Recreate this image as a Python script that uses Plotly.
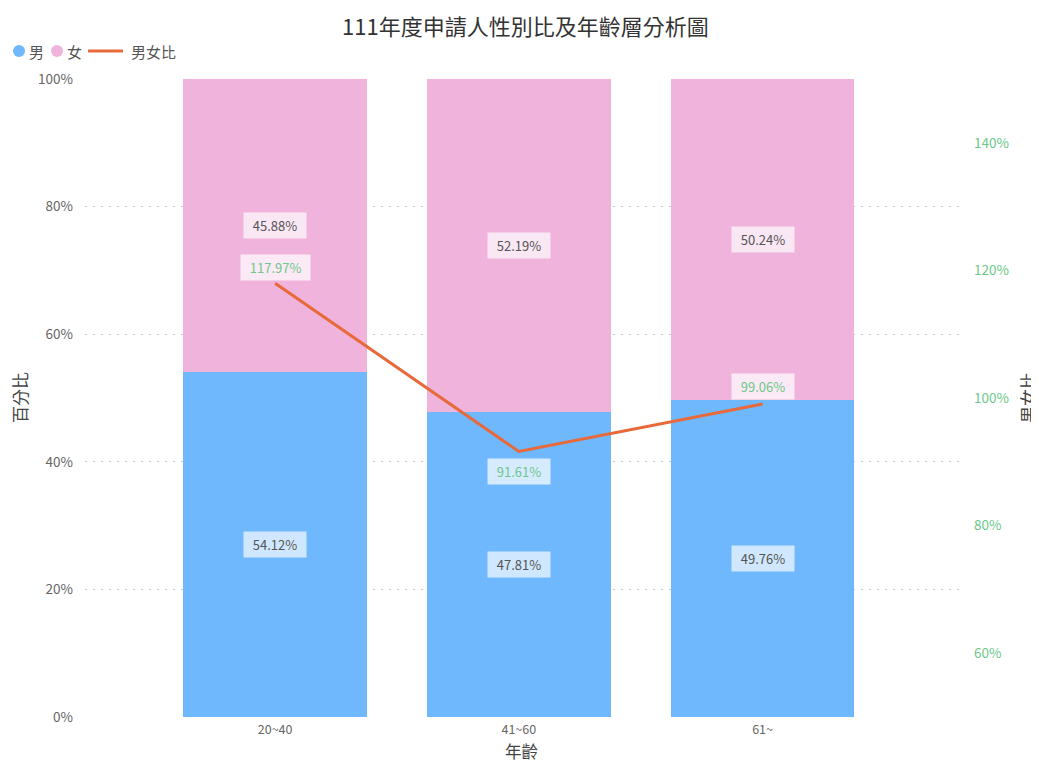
import plotly.graph_objects as go

categories = ["20~40", "41~60", "61~"]
male = [54.12, 47.81, 49.76]
female = [45.88, 52.19, 50.24]
ratio = [117.97, 91.61, 99.06]
ratio_label_shift = [16, -20, 18]

left_ticks = [0, 20, 40, 60, 80, 100]
right_ticks = [60, 80, 100, 120, 140]

C_MALE = "#6FB8FD"
C_FEMALE = "#F0B3DC"
C_LINE = "#E8693A"
C_GREEN = "#6CC88A"
FONT = "Noto Sans CJK TC"
TICK_SIZE = 13.5

# figure layout geometry (pixels in the figure)
W, H = 1039, 763
L, R, T, B = 77, 87, 71, 54
PW, PH = W - L - R, H - T - B


def px(x):
    return (x - L) / PW


def py(y):
    return (H - B - y) / PH


fig = go.Figure()
fig.add_trace(go.Bar(x=categories, y=male, name="男", marker=dict(color=C_MALE, line=dict(width=0)),
                     width=0.754, showlegend=False, hoverinfo="skip"))
fig.add_trace(go.Bar(x=categories, y=female, name="女", marker=dict(color=C_FEMALE, line=dict(width=0)),
                     width=0.754, showlegend=False, hoverinfo="skip"))
fig.add_trace(go.Scatter(x=categories, y=ratio, yaxis="y2", mode="lines", name="男女比",
                         line=dict(color=C_LINE, width=3), showlegend=False))

annotations = []
for i, c in enumerate(categories):
    annotations.append(dict(x=c, y=male[i] / 2, xref="x", yref="y", text=f"&nbsp;&nbsp;{male[i]:.2f}%&nbsp;&nbsp;",
                            showarrow=False, font=dict(size=13, color="#555", family=FONT),
                            bgcolor="rgba(255,255,255,0.68)", borderpad=3))
    annotations.append(dict(x=c, y=male[i] + female[i] / 2, xref="x", yref="y",
                            text=f"&nbsp;&nbsp;{female[i]:.2f}%&nbsp;&nbsp;",
                            showarrow=False, font=dict(size=13, color="#555", family=FONT),
                            bgcolor="rgba(255,255,255,0.68)", borderpad=3))
    annotations.append(dict(x=c, y=ratio[i], xref="x", yref="y2", text=f"&nbsp;&nbsp;{ratio[i]:.2f}%&nbsp;&nbsp;",
                            yshift=ratio_label_shift[i],
                            showarrow=False, font=dict(size=13, color=C_GREEN, family=FONT),
                            bgcolor="rgba(255,255,255,0.72)", borderpad=3))

# chart title
annotations.append(dict(x=px(517), y=py(17), xref="paper", yref="paper",
                        text="111年度申請人性別比及年齡層分析圖", xanchor="center", yanchor="middle",
                        showarrow=False, font=dict(size=22, color="#333", family=FONT)))

# axis titles
title_font = dict(size=17, color="#444", family=FONT)
annotations.append(dict(x=px(11), y=0.5, xref="paper", yref="paper", text="百分比", textangle=-90,
                        xanchor="center", yanchor="middle", showarrow=False, font=title_font))
annotations.append(dict(x=px(1019), y=0.5, xref="paper", yref="paper", text="男女比", textangle=-90,
                        xanchor="center", yanchor="middle", showarrow=False, font=title_font))
annotations.append(dict(x=px(513), y=py(743), xref="paper", yref="paper", text="年齡",
                        xanchor="center", yanchor="middle", showarrow=False, font=dict(size=16.5, color="#444", family=FONT)))

# legend (manual)
leg_font = dict(size=15, color="#555", family=FONT)
shapes = []
for cx, col in [(11, C_MALE), (49, C_FEMALE)]:
    shapes.append(dict(type="circle", xref="paper", yref="paper", x0=px(cx - 6), x1=px(cx + 6),
                       y0=py(43 + 6), y1=py(43 - 6), fillcolor=col, line=dict(width=0)))
shapes.append(dict(type="line", xref="paper", yref="paper", x0=px(80), x1=px(115), y0=py(43), y1=py(43),
                   line=dict(color=C_LINE, width=3)))
for lx, txt in [(19, "男"), (57, "女"), (121, "男女比")]:
    annotations.append(dict(x=px(lx), y=py(43), xref="paper", yref="paper", text=txt, xanchor="left",
                            yanchor="middle", showarrow=False, font=leg_font))

fig.update_layout(
    width=W, height=H,
    barmode="stack",
    paper_bgcolor="white", plot_bgcolor="white",
    font=dict(family=FONT, color="#666", size=12),
    margin=dict(l=L, r=R, t=T, b=B, autoexpand=False),
    showlegend=False,
    xaxis=dict(range=[-0.78, 2.81], showgrid=False, showline=False, zeroline=False, ticks="",
               tickfont=dict(size=12.5, color="#666"), automargin=False, ticklabelstandoff=3),
    yaxis=dict(range=[0, 100], tickmode="array", tickvals=left_ticks,
               ticktext=[f"{v}%" for v in left_ticks], showgrid=True, automargin=False,
               gridcolor="#C8C8C8", griddash="2px,6px", gridwidth=1, zeroline=False, showline=False,
               tickfont=dict(size=TICK_SIZE, color="#666"), ticklabelstandoff=11),
    yaxis2=dict(range=[50, 150], tickmode="array", tickvals=right_ticks,
                ticktext=[f"{v}%" for v in right_ticks], overlaying="y", side="right",
                showgrid=False, zeroline=False, showline=False, automargin=False,
                tickfont=dict(size=TICK_SIZE, color=C_GREEN), ticklabelstandoff=13),
    annotations=annotations,
    shapes=shapes,
    hovermode=False,
)

fig.write_html("out.html")
